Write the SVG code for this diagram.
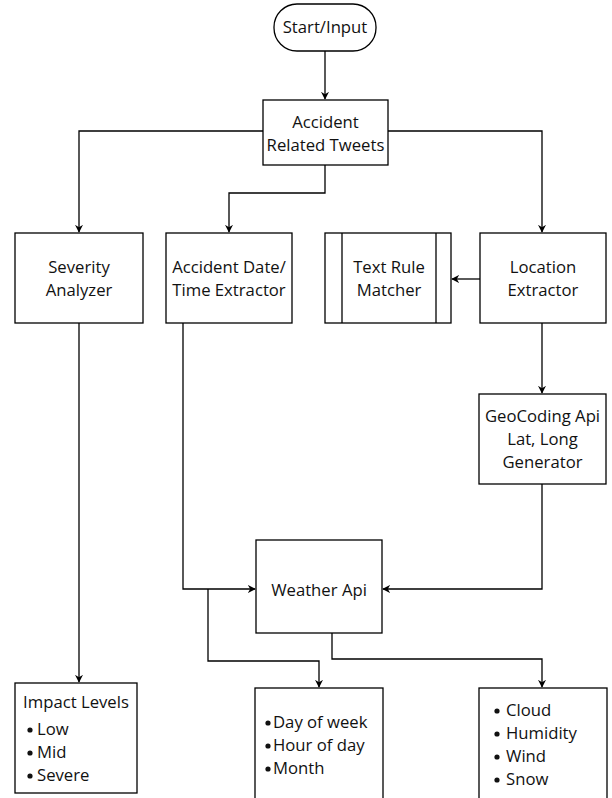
<svg xmlns="http://www.w3.org/2000/svg" width="612" height="798" viewBox="0 0 612 798">
<defs>
<style>
.box{fill:#fff;stroke:#000;stroke-width:1.3}
.t{font-family:"Open Sans","Noto Sans",sans-serif;font-size:16.7px;fill:#111;text-anchor:middle}
.l{font-family:"Open Sans","Noto Sans",sans-serif;font-size:16.7px;fill:#111}
.c{fill:none;stroke:#000;stroke-width:1.3}
</style>
<marker id="ah" viewBox="0 0 10 10" refX="9" refY="5" markerWidth="8" markerHeight="8" markerUnits="userSpaceOnUse" orient="auto">
<path d="M0,0 L10,5 L0,10 L3,5 Z" fill="#000"/>
</marker>
</defs>
<rect width="612" height="798" fill="#fff"/>
<g id="connectors">
<path class="c" d="M325,51 V99" marker-end="url(#ah)"/>
<path class="c" d="M263,131 H79 V232" marker-end="url(#ah)"/>
<path class="c" d="M388,131 H542 V232" marker-end="url(#ah)"/>
<path class="c" d="M325,165 V193 H229 V232" marker-end="url(#ah)"/>
<path class="c" d="M480,279 H452" marker-end="url(#ah)"/>
<path class="c" d="M542,323 V393" marker-end="url(#ah)"/>
<path class="c" d="M542,484 V589 H383" marker-end="url(#ah)"/>
<path class="c" d="M183,323 V589 H255" marker-end="url(#ah)"/>
<path class="c" d="M208,589 V661 H319 V687" marker-end="url(#ah)"/>
<path class="c" d="M332,633 V659 H542 V687" marker-end="url(#ah)"/>
<path class="c" d="M79,323 V682" marker-end="url(#ah)"/>
</g>
<g id="start">
<rect class="box" x="274" y="4" width="102" height="47" rx="23" ry="23"/>
<text class="t" x="325" y="33">Start/Input</text>
</g>
<g id="tweets">
<rect class="box" x="263" y="100" width="125" height="65"/>
<text class="t" x="325.5" y="128">Accident</text>
<text class="t" x="325.5" y="151">Related Tweets</text>
</g>
<g id="severity">
<rect class="box" x="15" y="233" width="128" height="90"/>
<text class="t" x="79" y="273">Severity</text>
<text class="t" x="79" y="296">Analyzer</text>
</g>
<g id="datetime">
<rect class="box" x="166" y="233" width="126" height="90"/>
<text class="t" x="229" y="273">Accident Date/</text>
<text class="t" x="229" y="296">Time Extractor</text>
</g>
<g id="textrule">
<rect class="box" x="325" y="233" width="126" height="90"/>
<line class="c" x1="342" y1="233" x2="342" y2="323"/>
<line class="c" x1="436" y1="233" x2="436" y2="323"/>
<text class="t" x="389" y="273">Text Rule</text>
<text class="t" x="389" y="296">Matcher</text>
</g>
<g id="location">
<rect class="box" x="480" y="233" width="126" height="90"/>
<text class="t" x="543" y="273">Location</text>
<text class="t" x="543" y="296">Extractor</text>
</g>
<g id="geocoding">
<rect class="box" x="479" y="394" width="127" height="90"/>
<text class="t" x="542.5" y="422">GeoCoding Api</text>
<text class="t" x="542.5" y="445">Lat, Long</text>
<text class="t" x="542.5" y="468">Generator</text>
</g>
<g id="weather">
<rect class="box" x="256" y="540" width="126" height="93"/>
<text class="t" x="319" y="596">Weather Api</text>
</g>
<g id="impact">
<rect class="box" x="15" y="683" width="122" height="110"/>
<text class="t" x="76" y="708">Impact Levels</text>
<circle cx="30" cy="730" r="2.6" fill="#111"/><text class="l" x="37" y="735">Low</text>
<circle cx="30" cy="753" r="2.6" fill="#111"/><text class="l" x="37" y="758">Mid</text>
<circle cx="30" cy="776" r="2.6" fill="#111"/><text class="l" x="37" y="781">Severe</text>
</g>
<g id="timefeatures">
<rect class="box" x="255" y="688" width="128" height="115"/>
<circle cx="268" cy="723" r="2.6" fill="#111"/><text class="l" x="273" y="728">Day of week</text>
<circle cx="268" cy="746" r="2.6" fill="#111"/><text class="l" x="273" y="751">Hour of day</text>
<circle cx="268" cy="769" r="2.6" fill="#111"/><text class="l" x="273" y="774">Month</text>
</g>
<g id="weatherfeatures">
<rect class="box" x="479" y="688" width="128" height="115"/>
<circle cx="497" cy="711" r="2.6" fill="#111"/><text class="l" x="506" y="716">Cloud</text>
<circle cx="497" cy="734" r="2.6" fill="#111"/><text class="l" x="506" y="739">Humidity</text>
<circle cx="497" cy="757" r="2.6" fill="#111"/><text class="l" x="506" y="762">Wind</text>
<circle cx="497" cy="780" r="2.6" fill="#111"/><text class="l" x="506" y="785">Snow</text>
</g>
</svg>
